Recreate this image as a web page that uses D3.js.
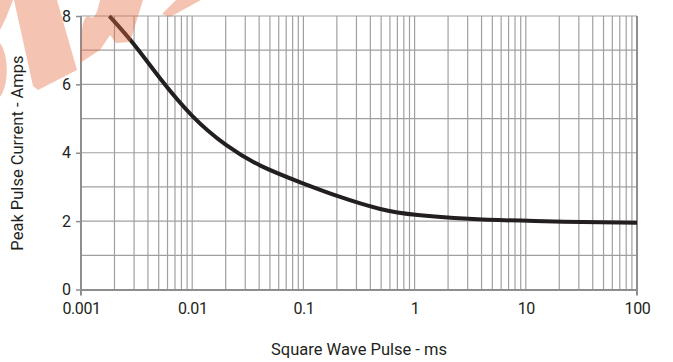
<!DOCTYPE html>
<html>
<head>
<meta charset="utf-8">
<script src="https://cdn.jsdelivr.net/npm/d3@7"></script>
<style>
  body { margin: 0; background: #fff; }
  svg { display: block; }
</style>
</head>
<body>
<svg id="chart" width="673" height="362" viewBox="0 0 673 362"></svg>
<script>
// pulse width (ms) vs peak current (A)
const pulseMs = [0.0018, 0.003, 0.005, 0.01, 0.02, 0.04, 0.1, 0.2, 0.5, 1, 3, 10, 100];
const peakAmps = [8.0, 7.2, 6.2, 5.02, 4.2, 3.6, 3.1, 2.73, 2.32, 2.17, 2.06, 2.0, 1.95];
const xTickLabels = [0.001, 0.01, 0.1, 1, 10, 100];
const yTickLabels = [0, 2, 4, 6, 8];

const svg = d3.select("#chart");
const margin = { top: 16, right: 36, bottom: 72, left: 81 };
const width = 673, height = 362;
const font = "'Roboto', sans-serif";

const x = d3.scaleLog().domain([0.001, 100]).range([margin.left, width - margin.right]);
const y = d3.scaleLinear().domain([0, 8]).range([height - margin.bottom - 0.5, margin.top]);

// minor grid: 1..9 in every decade
const xGrid = [];
for (let e = -3; e < 2; e++) for (let m = 1; m < 10; m++) xGrid.push(m * Math.pow(10, e));
xGrid.push(100);

const grid = svg.append("g").attr("stroke", "#a0a0a2").attr("stroke-width", 1.2);
grid.selectAll(".vx").data(xGrid).join("line")
  .attr("x1", d => x(d)).attr("x2", d => x(d))
  .attr("y1", y(8)).attr("y2", y(0));
grid.selectAll(".hy").data(d3.range(1, 9)).join("line")
  .attr("x1", x(0.001)).attr("x2", x(100))
  .attr("y1", d => y(d)).attr("y2", d => y(d));

// frame lines
svg.append("line").attr("x1", x(100)).attr("x2", x(100)).attr("y1", y(8)).attr("y2", y(0) + 6)
  .attr("stroke", "#8e8e90").attr("stroke-width", 2);
svg.append("line").attr("x1", x(0.001)).attr("x2", x(0.001)).attr("y1", y(8)).attr("y2", y(0) + 6)
  .attr("stroke", "#8e8e90").attr("stroke-width", 2);

svg.append("g")
  .attr("transform", `translate(0, ${y(0)})`)
  .call(d3.axisBottom(x).tickValues(xTickLabels).tickFormat(d => d3.format("~g")(d)).tickSize(0).tickPadding(13))
  .call(g => g.select(".domain").attr("stroke", "#8e8e90").attr("stroke-width", 2.2))
  .call(g => g.selectAll("text").attr("fill", "#231f20").attr("font-size", 16).attr("letter-spacing", -0.4).attr("font-family", font));

svg.append("g")
  .attr("transform", `translate(${x(0.001)}, 0)`)
  .call(d3.axisLeft(y).tickValues(yTickLabels).tickSize(5).tickPadding(5))
  .call(g => g.select(".domain").remove())
  .call(g => g.selectAll(".tick line").attr("stroke", "#8e8e90").attr("stroke-width", 1.5))
  .call(g => g.selectAll("text").attr("fill", "#231f20").attr("font-size", 16).attr("font-family", font));

// curve
const pts = pulseMs.map((d, i) => [d, peakAmps[i]]);
svg.append("path")
  .datum(pts)
  .attr("fill", "none")
  .attr("stroke", "#231f20")
  .attr("stroke-width", 4)
  .attr("d", d3.line().x(d => x(d[0])).y(d => y(d[1])).curve(d3.curveBasis));

// axis titles
svg.append("text")
  .attr("x", 359).attr("y", 355)
  .attr("text-anchor", "middle")
  .attr("font-family", font).attr("font-size", 16.5).attr("fill", "#231f20")
  .text("Square Wave Pulse - ms");

svg.append("text")
  .attr("transform", "translate(23, 153) rotate(-90)")
  .attr("text-anchor", "middle")
  .attr("font-family", font).attr("font-size", 16.5).attr("fill", "#231f20")
  .text("Peak Pulse Current - Amps");

// faint watermark strokes at top left
const marks = [
  "M0,0 L13,0 L6,18 L0,30 Z",
  "M14,0 L57,0 L77,70 L38,90 L33,86 Z",
  "M0,43 C9,55 9,85 0,97 Z",
  "M100,0 L143,0 L130,42 L116,43 L110,35 L100,50 L80,63 L82,30 C83,20 86,14 90,17 C94,20 97,14 100,0 Z",
  "M176,0 L201,0 L170,17 L162,14 Z"
];
svg.append("g").selectAll("path").data(marks).join("path")
  .attr("d", d => d)
  .attr("fill", "#e4683f")
  .attr("opacity", 0.4);
</script>
</body>
</html>
